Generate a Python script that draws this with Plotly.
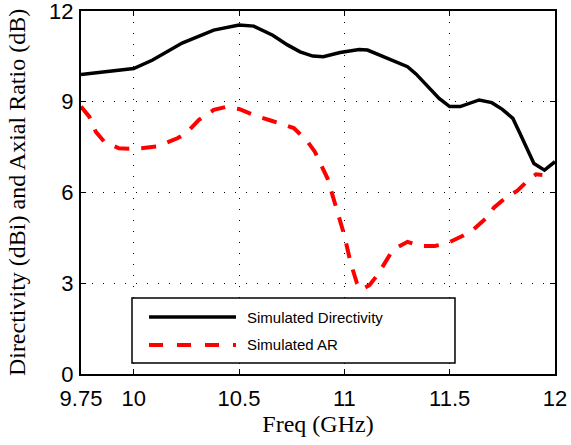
import plotly.graph_objects as go

# simulated directivity (dBi)
freq_dir = [9.75, 9.85, 10.0, 10.09, 10.23, 10.38, 10.5, 10.57, 10.66, 10.73, 10.79, 10.85, 10.9, 10.98,
            11.07, 11.11, 11.2, 11.3, 11.34, 11.45, 11.5, 11.55, 11.64, 11.7, 11.75, 11.8, 11.83, 11.9,
            11.95, 12.0]
directivity = [9.9, 9.97, 10.1, 10.38, 10.94, 11.37, 11.54, 11.5, 11.2, 10.88, 10.65, 10.51, 10.49, 10.63,
               10.73, 10.71, 10.44, 10.16, 9.92, 9.11, 8.84, 8.84, 9.06, 8.97, 8.75, 8.45, 8.01, 6.96,
               6.74, 7.02]

# simulated axial ratio (dB)
freq_ar = [9.75, 9.79, 9.82, 9.86, 9.93, 10.0, 10.11, 10.21, 10.25, 10.31, 10.38, 10.44, 10.5, 10.57,
           10.65, 10.73, 10.76, 10.82, 10.86, 10.92, 10.96, 11.0, 11.03, 11.06, 11.08, 11.12, 11.16, 11.2,
           11.23, 11.3, 11.36, 11.43, 11.49, 11.56, 11.61, 11.68, 11.71, 11.77, 11.82, 11.88, 11.91, 11.94]
axial_ratio = [8.84, 8.5, 8.01, 7.68, 7.46, 7.44, 7.52, 7.8, 7.97, 8.4, 8.73, 8.83, 8.76, 8.56,
               8.38, 8.18, 8.13, 7.73, 7.35, 6.47, 5.55, 4.59, 3.67, 3.0, 2.78, 2.94, 3.3, 3.77,
               4.1, 4.37, 4.23, 4.23, 4.33, 4.56, 4.76, 5.19, 5.5, 5.85, 6.05, 6.45, 6.6, 6.58]

x_ticks = [9.75, 10, 10.5, 11, 11.5, 12]
x_tick_text = ["9.75", "10", "10.5", "11", "11.5", "12"]
y_ticks = [0, 3, 6, 9, 12]
legend_names = ["Simulated Directivity", "Simulated AR"]

fig = go.Figure()

fig.add_trace(go.Scatter(x=freq_dir, y=directivity, mode="lines", name=legend_names[0],
                         line=dict(color="black", width=3.5)))
fig.add_trace(go.Scatter(x=freq_ar, y=axial_ratio, mode="lines", name=legend_names[1],
                         line=dict(color="#ff0000", width=4, dash="15px,12px")))

tick_font = dict(family="Liberation Sans, Arial", size=22, color="black")
title_font = dict(family="Liberation Serif, Times New Roman", size=24, color="black")

fig.update_layout(
    width=571, height=445,
    margin=dict(l=81, r=16, t=11, b=71),
    plot_bgcolor="white", paper_bgcolor="white",
    showlegend=False,
    xaxis=dict(
        range=[9.75, 12], tickvals=x_ticks, ticktext=x_tick_text, automargin=False,
        ticks="inside", ticklen=5, tickcolor="black", tickfont=tick_font,
        showline=True, linecolor="black", linewidth=2, mirror="ticks",
        showgrid=True, gridcolor="black", gridwidth=1, griddash="1px,10px",
        zeroline=False, ticklabelstandoff=4, ticklabeloverflow="allow",
        title=dict(text="Freq (GHz)", font=title_font, standoff=1),
    ),
    yaxis=dict(
        range=[0, 12], tickvals=y_ticks, automargin=False,
        ticks="inside", ticklen=5, tickcolor="black", tickfont=tick_font,
        showline=True, linecolor="black", linewidth=2, mirror="ticks",
        showgrid=True, gridcolor="black", gridwidth=1, griddash="1px,10px",
        zeroline=False, ticklabelstandoff=1, ticklabeloverflow="allow",
        title=dict(text="Directivity (dBi) and Axial Ratio (dB)", font=title_font, standoff=17),
    ),
)

# legend box drawn by hand so the sample lines are as long as in the original
fig.add_shape(type="rect", xref="paper", yref="paper", x0=0.1076, x1=0.789, y0=0.0303, y1=0.2094,
              line=dict(color="black", width=1.5), fillcolor="white")
fig.add_shape(type="line", xref="paper", yref="paper", x0=0.1435, x1=0.327, y0=0.157, y1=0.157,
              line=dict(color="black", width=3.5))
fig.add_shape(type="line", xref="paper", yref="paper", x0=0.1435, x1=0.327, y0=0.0799, y1=0.0799,
              line=dict(color="#ff0000", width=4, dash="14px,14px"))
for name, yy in zip(legend_names, [0.157, 0.0799]):
    fig.add_annotation(text=name, xref="paper", yref="paper", x=0.346, y=yy, xanchor="left",
                       yanchor="middle", showarrow=False,
                       font=dict(family="Liberation Sans, Arial", size=15, color="black"))

# drop the default 8px body margin so the 571x445 figure fills the window
fig.write_html("out.html", config={"displayModeBar": False},
               post_script="document.body.style.margin='0px';")
